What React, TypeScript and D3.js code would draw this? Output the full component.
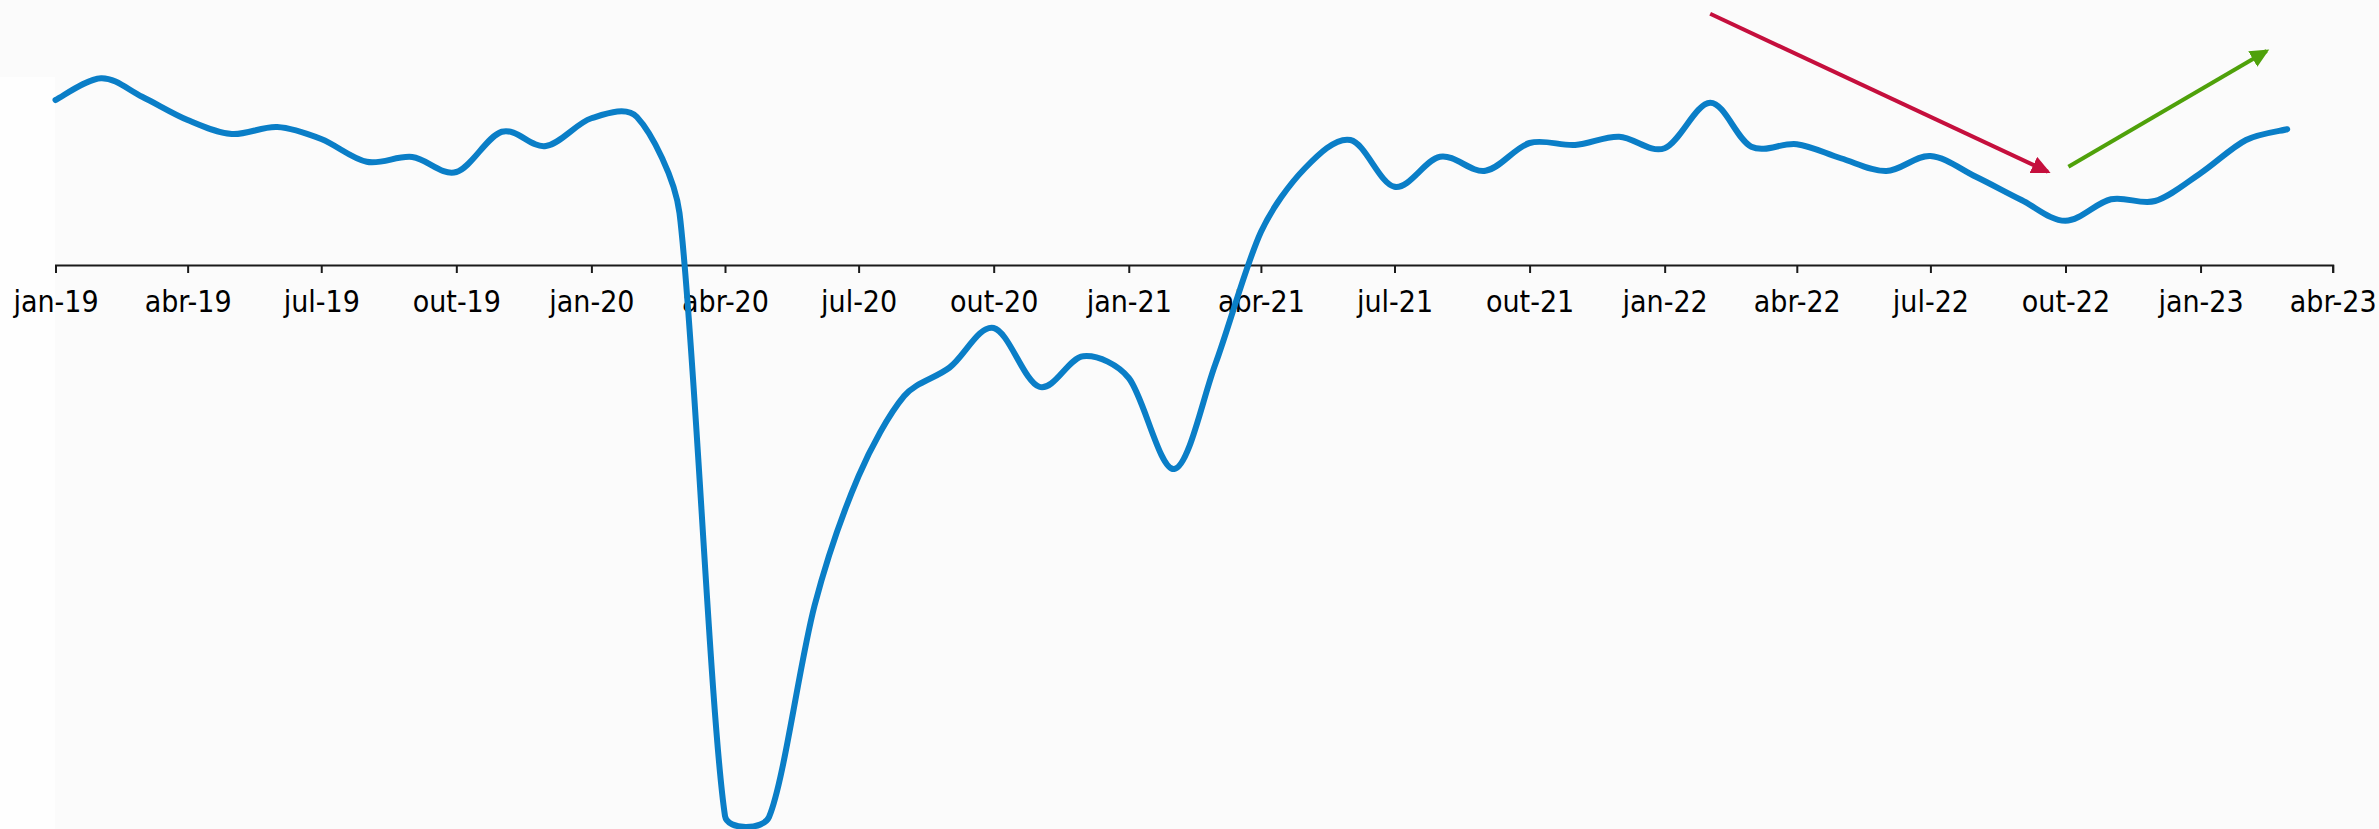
import React, { useRef, useEffect } from 'react';
import * as d3 from 'd3';

// monthly series, jan-19 .. mar-23 (percent)
const values2019 = [6.6, 7.47, 6.73, 5.8, 5.24, 5.52, 5.04, 4.13, 4.32, 3.72, 5.33, 4.76];
const values2020 = [5.87, 5.92, 2.08, -22.04, -22.08, -13.62, -8.44, -5.24, -4.1, -2.52, -4.87, -3.65];
const values2021 = [-4.52, -8.16, -3.96, 1.32, 3.87, 5.0, 3.13, 4.33, 3.77, 4.88, 4.8, 5.13];
const values2022 = [4.67, 6.49, 4.73, 4.83, 4.27, 3.76, 4.36, 3.53, 2.6, 1.77, 2.63, 2.56];
const values2023 = [3.67, 5.0, 5.43];

const ptMonths = ['jan', 'fev', 'mar', 'abr', 'mai', 'jun', 'jul', 'ago', 'set', 'out', 'nov', 'dez'];

// annotation arrows: [date, value] start and end
const downArrow: [Date, number][] = [[new Date(2022, 1, 1), 10.05], [new Date(2022, 8, 19), 3.73]];
const upArrow: [Date, number][] = [[new Date(2022, 9, 3), 3.93], [new Date(2023, 1, 15), 8.56]];

// spreadsheet-style smoothing: tangent from the neighbours,
// handle = min(neighbour chord / 6, own segment / 3)
function curveSmooth(context: any) {
  let pts: [number, number][] = [];
  return {
    areaStart() {},
    areaEnd() {},
    lineStart() { pts = []; },
    point(x: number, y: number) { pts.push([+x, +y]); },
    lineEnd() {
      const n = pts.length;
      if (!n) return;
      context.moveTo(pts[0][0], pts[0][1]);
      const tan = pts.map((p, i) => {
        const a = pts[Math.max(0, i - 1)];
        const b = pts[Math.min(n - 1, i + 1)];
        const dx = b[0] - a[0], dy = b[1] - a[1];
        const len = Math.hypot(dx, dy) || 1;
        return [dx / len, dy / len, len / 6];
      });
      for (let i = 0; i < n - 1; i++) {
        const p = pts[i], q = pts[i + 1];
        const seg = Math.hypot(q[0] - p[0], q[1] - p[1]) / 3;
        const d1 = Math.min(tan[i][2], seg);
        const d2 = Math.min(tan[i + 1][2], seg);
        context.bezierCurveTo(
          p[0] + tan[i][0] * d1, p[1] + tan[i][1] * d1,
          q[0] - tan[i + 1][0] * d2, q[1] - tan[i + 1][1] * d2,
          q[0], q[1]);
      }
    }
  };
}

function App() {
  const svgRef = useRef<SVGSVGElement>(null);

  useEffect(() => {
    document.body.style.margin = '0';
    const width = 2379;
    const height = 829;

    const values = [...values2019, ...values2020, ...values2021, ...values2022, ...values2023];
    const dates = d3.timeMonth.range(new Date(2019, 0, 1), new Date(2023, 3, 1));
    const data = dates.map((d, i) => ({ date: d, value: values[i] }));

    const svg = d3.select(svgRef.current)
      .attr('width', width)
      .attr('height', height);
    svg.selectAll('*').remove();

    svg.append('rect').attr('width', width).attr('height', height).attr('fill', '#fbfbfb');
    svg.append('rect').attr('x', 0).attr('y', 77).attr('width', 55).attr('height', height - 77).attr('fill', '#fefefe');

    const x = d3.scaleTime()
      .domain([new Date(2019, 0, 1), new Date(2023, 3, 1)])
      .range([55.5, 2332.7]);

    const y = d3.scaleLinear()
      .domain([0, 10])
      .range([265, 15]);

    const defs = svg.append('defs');
    const marker = (id: string, color: string) => {
      defs.append('marker')
        .attr('id', id)
        .attr('markerUnits', 'userSpaceOnUse')
        .attr('markerWidth', 20)
        .attr('markerHeight', 20)
        .attr('viewBox', '0 0 20 20')
        .attr('refX', 16)
        .attr('refY', 9)
        .attr('orient', 'auto')
        .append('path')
        .attr('d', 'M0,0 L19,9 L0,18 Z')
        .attr('fill', color);
    };
    marker('head-red', '#c50f3d');
    marker('head-green', '#4fa10a');

    // x axis on the zero line
    svg.append('g')
      .attr('transform', `translate(0, ${y(0)})`)
      .call(d3.axisBottom(x)
        .ticks(d3.timeMonth.every(3))
        .tickFormat(d => `${ptMonths[(d as Date).getMonth()]}-${String((d as Date).getFullYear()).slice(2)}`)
        .tickSizeInner(8)
        .tickSizeOuter(8)
        .tickPadding(18))
      .call(g => g.select('.domain').attr('stroke', '#1a1a1a').attr('stroke-width', 2))
      .call(g => g.selectAll('.tick line').attr('stroke', '#1a1a1a').attr('stroke-width', 2))
      .call(g => g.selectAll('.tick text')
        .attr('fill', '#000')
        .style('font-family', "'DejaVu Sans Condensed', 'DejaVu Sans', sans-serif")
        .style('font-stretch', 'condensed')
        .style('font-size', '30px'));

    const line = d3.line<{ date: Date; value: number }>()
      .x(d => x(d.date))
      .y(d => y(d.value))
      .curve(curveSmooth as any);

    svg.append('path')
      .datum(data)
      .attr('d', line)
      .attr('fill', 'none')
      .attr('stroke', '#0a7ec7')
      .attr('stroke-width', 6)
      .attr('stroke-linecap', 'round')
      .attr('stroke-linejoin', 'round');

    const arrowLine = d3.line<[Date, number]>()
      .x(d => x(d[0]))
      .y(d => y(d[1]));

    svg.append('path')
      .datum(downArrow)
      .attr('d', arrowLine)
      .attr('stroke', '#c50f3d')
      .attr('stroke-width', 4)
      .attr('fill', 'none')
      .attr('marker-end', 'url(#head-red)');

    svg.append('path')
      .datum(upArrow)
      .attr('d', arrowLine)
      .attr('stroke', '#4fa10a')
      .attr('stroke-width', 4)
      .attr('fill', 'none')
      .attr('marker-end', 'url(#head-green)');
  }, []);

  return <svg ref={svgRef} style={{ display: 'block' }}></svg>;
}

export default App;
